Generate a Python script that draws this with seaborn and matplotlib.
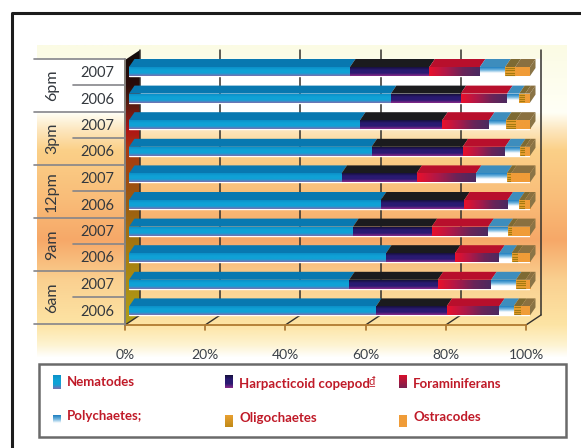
import matplotlib
matplotlib.use('Agg')
import matplotlib.pyplot as plt
from matplotlib.colors import LinearSegmentedColormap
from matplotlib.patches import Polygon, Rectangle
import numpy as np
import seaborn as sns

# Filas de arriba hacia abajo
horas = ['6pm', '3pm', '12pm', '9am', '6am']
anios = ['2007', '2006'] * 5
filas = [f'{h} {a}' for h in horas for a in ['2007', '2006']]

nematodes = [55.1, 65.3, 57.6, 60.5, 53.0, 62.8, 55.9, 64.1, 54.9, 61.6]
harpacticoid = [19.8, 17.4, 20.5, 22.7, 18.7, 20.8, 19.6, 17.2, 22.1, 17.6]
foraminiferans = [12.6, 11.6, 11.7, 10.6, 14.8, 10.8, 14.1, 11.0, 13.3, 13.1]
polychaetes = [6.3, 3.0, 4.2, 3.7, 7.7, 2.9, 4.8, 3.1, 6.2, 3.6]
oligochaetes = [2.5, 1.5, 2.5, 1.3, 1.1, 1.4, 1.2, 1.5, 2.4, 1.9]
ostracodes = [3.7, 1.2, 3.5, 1.2, 4.7, 1.3, 4.4, 3.1, 1.1, 2.2]

ticks = [0, 20, 40, 60, 80, 100]

# (valores, colores del frente, direccion del degradado, color de la cara superior)
series = [
    (nematodes, ['#0c90c8', '#10a2d6', '#10a2d6', '#7a6fb0'], 'v', '#0878b0'),
    (harpacticoid, ['#16103e', '#2a1a72', '#2a1a72', '#8a2a8a'], 'v', '#1b1b1e'),
    (foraminiferans, ['#e8102c', '#b01848', '#6a2458', '#4a2a60'], 'h', '#b80f2c'),
    (polychaetes, ['#1f7fc0', '#6fb4de', '#ffffff', '#ffffff'], 'v', '#3d8dbd'),
    (oligochaetes, ['#e9a030', '#e9a030'], 'v', '#7d6a33'),
    (ostracodes, ['#f09c38', '#f09c38'], 'v', '#8a7040'),
]

W, H = 581, 448
FONDO_Y = [45, 60, 112, 130, 150, 200, 240, 280, 325, 345, 358]
FONDO_C = ['#fbfbe4', '#fcfce8', '#fffff6', '#fde6bd', '#fbd088', '#f9bc78',
           '#f6a868', '#fad090', '#fde4a4', '#fdf3d0', '#ffffff']
PARED_Y = [50, 62, 85, 105, 130, 150, 200, 260, 325]
PARED_C = ['#101010', '#1a0a08', '#2c0c08', '#5a1c10', '#b01414', '#a83a10',
           '#9a5a10', '#a88010', '#b0a018']


def gradiente(ys, colores, y0, y1):
    # Degradado vertical a partir de paradas en pixeles
    stops = [(y - y0) / (y1 - y0) for y in ys]
    return LinearSegmentedColormap.from_list('g', list(zip(stops, colores)))


def dibujar_fondo(bg):
    barra = np.linspace(0, 1, 256).reshape(-1, 1)
    bg.imshow(barra, extent=(37, 567, 358, 45), aspect='auto', zorder=0,
              cmap=gradiente(FONDO_Y, FONDO_C, 45, 358))
    bg.add_patch(Rectangle((37, 59), 504, 53, color='white', zorder=1))

    # Pared lateral con degradado
    pared = bg.imshow(barra, extent=(125, 140, 325, 50), aspect='auto', zorder=2,
                      cmap=gradiente(PARED_Y, PARED_C, 50, 325))
    poly = Polygon([(125, 60), (140, 50), (140, 315), (125, 325)], transform=bg.transData,
                   fill=False, lw=0)
    bg.add_patch(poly)
    pared.set_clip_path(poly)

    # Rejilla del fondo y piso
    for t in ticks:
        xf = 125 + 4.01 * t
        xb = 140 + 4.01 * t
        bg.plot([xb, xb], [50, 315], color='#33302c', lw=1.1, zorder=2)
        bg.plot([xf, xb], [325, 315], color='#33302c', lw=1.0, zorder=2)
        bg.plot([xf, xf], [325, 330], color='#a8722c', lw=1.2, zorder=2)
        bg.text(xf, 355, f'{t}%', ha='center', va='center', fontsize=10, color='#3a4048')
    bg.plot([125, 526], [325, 325], color='#b07a30', lw=1.3, zorder=2)
    bg.plot([125, 125], [59, 325], color='#85817a', lw=1.4, zorder=2)

    # Etiquetas de hora y anio
    for i, h in enumerate(horas):
        bg.plot([34, 125], [59 + 53 * i] * 2, color='#85858a', lw=1.2, zorder=2)
        bg.plot([73, 125], [85.5 + 53 * i] * 2, color='#85858a', lw=1.2, zorder=2)
        bg.text(52, 85.5 + 53 * i, h, rotation=90, ha='center', va='center',
                fontsize=11.5, color='#33383e', zorder=3)
    bg.plot([34, 125], [324, 324], color='#85858a', lw=1.2, zorder=2)
    for i, a in enumerate(anios):
        bg.text(97, 73 + 26.5 * i, a, ha='center', va='center', fontsize=10.5,
                color='#33383e', zorder=3)

    # Marco exterior abierto abajo y a la derecha
    bg.plot([12, 12, 581], [448, 13, 13], color='#1c1c1c', lw=2.2, zorder=3)


def dibujar_barras(ax):
    izquierda = np.zeros(len(filas))
    dx = 5.5 / 4.01
    dy = 8 / 26.6
    ancho = 9 / 26.6
    for k, (valores, colores, modo, arriba) in enumerate(series):
        valores = np.array(valores)
        antes = len(ax.patches)
        sns.barplot(x=valores, y=filas, left=izquierda, orient='h', width=ancho,
                    color=colores[0], saturation=1, order=filas, ax=ax, zorder=3)
        cmap = LinearSegmentedColormap.from_list('c', colores)
        for i, barra in enumerate(ax.patches[antes:]):
            x0, x1 = izquierda[i], izquierda[i] + valores[i]
            y_c = barra.get_y()
            # cara superior
            ax.fill([x0, x1, x1 + dx, x0 + dx], [y_c, y_c, y_c - dy, y_c - dy],
                    color=arriba, lw=0, zorder=4 + k, clip_on=False)
            # frente con degradado
            if modo == 'h':
                grad = np.linspace(0, 1, 64).reshape(1, -1)
            else:
                grad = np.linspace(0, 1, 64).reshape(-1, 1)
            ax.imshow(grad, extent=(x0, x1, y_c + ancho, y_c), aspect='auto', cmap=cmap,
                      zorder=4 + k, clip_on=False)
            if k == 4:
                # lineas de oligochaetes
                for f in [0.12, 0.37, 0.62, 0.87]:
                    ax.plot([x0, x1], [y_c + f * ancho] * 2, color='#a57a10', lw=0.8,
                            zorder=5 + k, clip_on=False, solid_capstyle='butt')
            if k == 5:
                # cara lateral derecha
                ax.fill([x1, x1 + dx, x1 + dx, x1],
                        [y_c, y_c - dy, y_c - dy + ancho, y_c + ancho],
                        color='#8a7446', lw=0, zorder=4 + k, clip_on=False)
        izquierda = izquierda + valores
    ax.set_xlim(0, 100)
    ax.set_ylim(9.5, -0.5)
    ax.axis('off')
    ax.patch.set_alpha(0)


def dibujar_leyenda(bg):
    bg.add_patch(Rectangle((39, 364), 527, 73, facecolor='white', edgecolor='#6a6a6a',
                           lw=1.8, zorder=3))
    filas_ley = [
        ('Nematodes', 53, 375, 389, 67, 382, series[0][1]),
        ('Harpacticoid copepod', 225, 375, 388, 239, 384, series[1][1]),
        ('Foraminiferans', 399, 375, 388, 413, 384, ['#d8102c', '#7a2050']),
        ('Polychaetes;', 53, 415, 427, 67, 416, series[3][1]),
        ('Oligochaetes', 225, 415, 427, 239, 418, ['#e9a030', '#c08a18']),
        ('Ostracodes', 399, 415, 427, 413, 417, series[5][1]),
    ]
    for texto, x, y0, y1, xt, yt, colores in filas_ley:
        cmap = LinearSegmentedColormap.from_list('l', colores)
        bg.imshow(np.linspace(0, 1, 32).reshape(-1, 1), extent=(x, x + 8, y1, y0),
                  aspect='auto', cmap=cmap, zorder=4)
        bg.text(xt, yt, texto, ha='left', va='center', fontsize=9.5, color='#c01a28',
                weight='bold', zorder=4)
    bg.text(372, 381, '₫', ha='center', va='center', fontsize=8, color='#c01a28', zorder=4)


def main():
    sns.set_style('white')
    plt.rcParams['font.family'] = ['Lato', 'DejaVu Sans']

    fig = plt.figure(figsize=(W / 100, H / 100), dpi=100)
    bg = fig.add_axes([0, 0, 1, 1])
    dibujar_fondo(bg)
    dibujar_leyenda(bg)
    bg.set_xlim(0, W)
    bg.set_ylim(H, 0)
    bg.axis('off')

    # Ejes de las barras: 0-100% va de x=129 a x=530, filas de y=58 a y=324
    ax = fig.add_axes([129 / W, 1 - 324.2 / H, 401 / W, 266 / H])
    dibujar_barras(ax)

    fig.savefig('out.png', dpi=100)


if __name__ == "__main__":
    main()
